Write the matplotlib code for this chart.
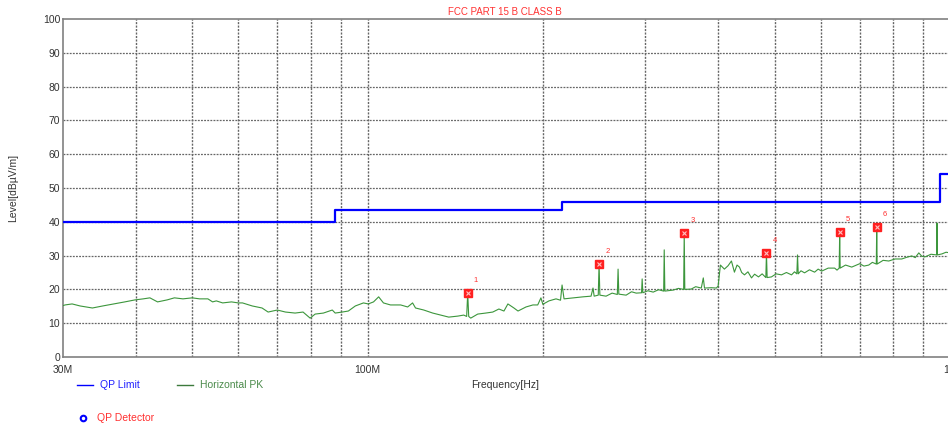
import matplotlib
matplotlib.use("Agg")
import matplotlib.pyplot as plt
from matplotlib.lines import Line2D

plt.rcParams['font.family'] = ['Liberation Sans', 'DejaVu Sans']

# ---- data ----
title = "FCC PART 15 B CLASS B"
y_ticks = [0, 10, 20, 30, 40, 50, 60, 70, 80, 90, 100]
x_tick_freqs = [30e6, 100e6, 1e9]
x_tick_labels = ["30M", "100M", "1G"]
minor_grid_freqs = [40e6, 50e6, 60e6, 70e6, 80e6, 90e6,
                    200e6, 300e6, 400e6, 500e6, 600e6, 700e6, 800e6, 900e6]

# QP limit (step function), MHz / dBuV/m
limit_freq_mhz = [30, 88, 88, 216, 216, 960, 960, 1000]
limit_level = [40, 40, 43.5, 43.5, 46, 46, 54, 54]

# Horizontal PK trace, MHz
pk_freq_mhz = [30.0, 30.24, 31.1, 32.1, 33.7, 35.1, 36.7, 38.3, 39.9, 41.2, 42.3, 43.6,
               45.3, 46.6, 48.2, 50.0, 51.5, 53.2, 54.2, 55.0, 56.4, 58.4, 60.0, 61.0,
               63.4, 65.9, 67.5, 70.0, 72.3, 75.1, 77.5, 79.7, 81.3, 84.0, 87.0, 88.0,
               90.5, 92.7, 95.3, 98.4, 100.3, 102.4, 104.5, 106.5, 109.5, 114.0, 117.2,
               119.5, 120.9, 124.9, 129.4, 133.6, 137.9, 142.9, 146.3, 148.0, 148.6,
               149.2, 150.4, 154.6, 159.6, 164.1, 168.1, 171.5, 174.2, 178.4, 181.3,
               187.1, 192.3, 196.0, 198.5, 200.0, 204.9, 210.7, 214.5, 215.8, 217.5,
               225.4, 234.4, 242.0, 243.9, 245.0, 249.0, 249.8, 250.6, 256.8, 263.0,
               268.5, 269.3, 270.1, 278.0, 284.0, 289.3, 295.5, 296.2, 297.0, 303.0,
               309.4, 316.0, 322.5, 323.2, 324.0, 334.9, 342.0, 349.0, 349.8, 350.6,
               359.6, 366.0, 374.2, 377.2, 379.0, 389.4, 397.2, 400.0, 403.6, 410.0,
               416.0, 421.6, 426.6, 431.0, 435.2, 439.0, 443.9, 450.0, 456.4, 462.0,
               469.2, 476.0, 483.0, 484.2, 485.5, 493.9, 503.0, 513.9, 524.0, 534.7,
               541.0, 546.0, 547.5, 549.0, 555.0, 562.9, 574.0, 585.7, 594.0, 602.2,
               618.0, 634.1, 640.0, 645.5, 646.8, 648.0, 662.0, 678.3, 700.0, 712.0,
               725.5, 736.0, 747.5, 748.8, 750.0, 768.0, 785.3, 805.0, 826.8, 843.0,
               860.2, 872.0, 884.3, 895.0, 905.7, 928.0, 949.0, 950.2, 951.5, 968.9,
               985.0, 1000.0]
pk_level = [15.2, 15.4, 15.7, 15.1, 14.5, 15.1, 15.7, 16.3, 16.9, 17.2, 17.5, 16.3,
            16.9, 17.5, 17.2, 17.5, 17.2, 17.2, 16.3, 16.6, 16.0, 16.3, 16.0, 16.0,
            15.1, 14.5, 13.3, 13.9, 13.3, 13.0, 13.3, 11.5, 12.7, 13.0, 13.9, 13.0,
            13.3, 13.6, 15.1, 16.0, 15.7, 16.3, 17.8, 16.0, 15.4, 15.4, 14.8,
            16.0, 14.5, 13.9, 13.0, 12.4, 11.8, 12.1, 12.4, 12.0, 18.9,
            12.0, 11.5, 12.7, 13.0, 13.3, 14.2, 13.6, 15.7, 14.5, 13.6,
            14.8, 15.4, 15.4, 17.5, 15.6, 16.6, 17.2, 16.8, 21.3, 17.2,
            17.5, 17.8, 18.0, 20.4, 18.0, 18.3, 27.5, 18.3, 18.0, 18.9,
            18.5, 26.0, 18.6, 18.3, 19.3, 18.9, 19.0, 23.1, 19.0, 19.6,
            19.2, 19.9, 19.5, 31.7, 19.5, 19.8, 20.3, 20.0, 36.7, 20.0,
            20.1, 20.8, 20.4, 23.4, 20.4, 20.5, 20.4, 21.0, 27.2, 26.0,
            27.0, 28.4, 25.1, 27.2, 26.6, 25.0, 24.3, 25.2, 23.4, 24.5,
            23.7, 24.6, 23.5, 30.8, 23.5, 23.7, 24.6, 24.3, 25.0, 24.3,
            25.2, 24.6, 30.2, 24.6, 25.5, 24.9, 25.8, 25.1, 26.0, 25.4,
            26.3, 26.3, 25.7, 26.3, 37.0, 26.3, 27.2, 26.6, 27.6, 26.9,
            27.2, 28.0, 27.5, 38.5, 27.5, 28.6, 28.4, 29.0, 29.0, 29.5,
            29.9, 29.4, 30.8, 29.8, 29.6, 30.4, 30.2, 39.6, 30.2, 30.5,
            31.0, 30.8]

# QP detector markers
qp_freq_mhz = [148.6, 249.8, 349.8, 484.2, 646.8, 748.8]
qp_level = [18.9, 27.5, 36.7, 30.8, 37.0, 38.5]
qp_labels = ["1", "2", "3", "4", "5", "6"]

# ---- figure ----
W, H = 948, 428
fig = plt.figure(figsize=(W / 100, H / 100), dpi=100)
ax = fig.add_axes([63 / W, 1 - 357 / H, (948 - 63) / W + 0.002, (357 - 19) / H])
ax.set_xscale('log')
ax.set_xlim(30e6, 1e9)
ax.set_ylim(0, 100)

grid_col = '#666666'
for yv in y_ticks[1:-1]:
    ax.axhline(yv, color=grid_col, lw=0.9, ls=(0, (1.5, 1)), zorder=1)
for fv in minor_grid_freqs + [100e6]:
    ax.axvline(fv, color=grid_col, lw=1.0, ls=(0, (1.5, 1)), zorder=1)

ax.plot([f * 1e6 for f in limit_freq_mhz], limit_level, color='#0000ff', lw=1.6, zorder=3)
ax.plot([f * 1e6 for f in pk_freq_mhz], pk_level, color='#3c963c', lw=0.8, zorder=4)

qf = [f * 1e6 for f in qp_freq_mhz]
ax.plot(qf, qp_level, ls='none', marker='s', ms=6, mfc='#ff2020', mec='#ff2020', zorder=5)
ax.plot(qf, qp_level, ls='none', marker='x', ms=3.2, mec='#ffc0c0', mew=0.8, zorder=6)
for f, l, t in zip(qf, qp_level, qp_labels):
    ax.annotate(t, (f, l), xytext=(6, 9), textcoords='offset points',
                color='#ff3030', fontsize=5.5, ha='center', va='center')

ax.set_yticks(y_ticks)
ax.set_xticks(x_tick_freqs)
ax.set_xticklabels(x_tick_labels)
ax.xaxis.set_minor_locator(matplotlib.ticker.NullLocator())
ax.tick_params(axis='both', length=0, labelsize=7.5, labelcolor='#333333')
ax.tick_params(axis='x', pad=6)
ax.tick_params(axis='y', pad=2)
for s in ['left', 'bottom', 'top']:
    ax.spines[s].set_color('#808080')
    ax.spines[s].set_linewidth(1.2)
ax.spines['right'].set_visible(False)

fig.text(505 / W, 1 - 12 / H, title, color='#ff3333', fontsize=7, ha='center', va='center')
fig.text(505 / W, 1 - 385 / H, "Frequency[Hz]", color='#333333', fontsize=7.5, ha='center', va='center')
fig.text(13 / W, 1 - 188 / H, "Level[dBµV/m]", color='#333333', fontsize=7.5,
         ha='center', va='center', rotation=90)

# legend
fig.add_artist(Line2D([77 / W, 93 / W], [1 - 385 / H, 1 - 385 / H], color='#0000ff', lw=1.0))
fig.text(100 / W, 1 - 385 / H, "QP Limit", color='#2020ff', fontsize=7.5, ha='left', va='center')
fig.add_artist(Line2D([177 / W, 193 / W], [1 - 385 / H, 1 - 385 / H], color='#3c7a3c', lw=1.0))
fig.text(200 / W, 1 - 385 / H, "Horizontal PK", color='#4a8a4a', fontsize=7.5, ha='left', va='center')
fig.add_artist(Line2D([83 / W], [1 - 418 / H], marker='o', ms=4, mfc='none', mec='#0000ff', mew=1.5, ls='none'))
fig.text(97 / W, 1 - 418 / H, "QP Detector", color='#ff3030', fontsize=7.5, ha='left', va='center')

fig.savefig("out.png", dpi=100)
